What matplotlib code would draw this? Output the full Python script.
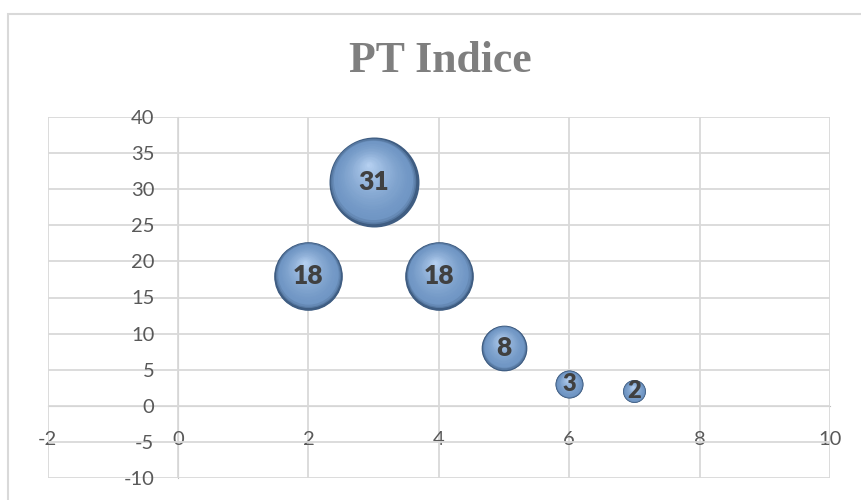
import numpy as np
import matplotlib.pyplot as plt
from matplotlib.transforms import ScaledTranslation
from matplotlib.colors import to_rgb
from matplotlib.patches import Rectangle

plt.rcParams['axes.unicode_minus'] = False

x_vals = [2, 3, 4, 5, 6, 7]
y_vals = [18, 31, 18, 8, 3, 2]
bubble_sizes = [18, 31, 18, 8, 3, 2]
title = 'PT Indice'

edge_col = np.array(to_rgb('#3f5d82'))
base_col = np.array(to_rgb('#7096c4'))
high_col = np.array(to_rgb('#b9d3f3'))

fig = plt.figure(figsize=(8.61, 5.0), dpi=100)
ax = fig.add_axes([0.0553, 0.044, 0.9087, 0.722])
ax.set_xlim(-2, 10)
ax.set_ylim(-10, 40)
ax.set_xticks(np.arange(-2, 11, 2))
ax.set_yticks(np.arange(-10, 41, 5))

ax.grid(True, color='#d9d9d9', lw=1.3, zorder=0)
ax.set_axisbelow(True)
for side in ['top', 'right']:
    ax.spines[side].set_visible(False)
ax.spines['left'].set_position(('data', 0))
ax.spines['bottom'].set_position(('data', 0))
ax.spines['left'].set_color('#bfbfbf')
ax.spines['bottom'].set_color('#bfbfbf')
ax.spines['left'].set_zorder(0.5)
ax.spines['bottom'].set_zorder(0.5)
ax.tick_params(length=0, labelsize=14.5, labelcolor='#595959')
ax.tick_params(axis='y', pad=17)
ax.tick_params(axis='x', pad=18)
for lab in ax.get_xticklabels() + ax.get_yticklabels():
    lab.set_fontfamily('Lato')

# bubbles: diameter in points scales with sqrt of size (area-proportional)
max_d = 64.8
for xv, yv, sv in zip(x_vals, y_vals, bubble_sizes):
    d = max_d * np.sqrt(sv / max(bubble_sizes))
    ax.scatter([xv], [yv], s=d ** 2, color=edge_col, zorder=3, lw=0)
    n = 28
    for i in range(n):
        k = 1 - i / n
        dk = d * (0.985 * k)
        dx = -(1 - k) * d * 0.06
        dy = (1 - k) * d * 0.2
        if k > 0.9:
            c = edge_col + (base_col - edge_col) * ((1 - k) / 0.1) ** 0.7
        else:
            c = base_col + (high_col - base_col) * min(1, ((0.9 - k) / 0.9) ** 1.4)
        tr = ax.transData + ScaledTranslation(dx / 72, dy / 72, fig.dpi_scale_trans)
        ax.scatter([xv], [yv], s=dk ** 2, color=c, zorder=3, lw=0, transform=tr)
    ax.text(xv, yv, str(sv), ha='center', va='center', fontsize=19 if sv > 5 else 17,
            fontweight='heavy', color='#404040', family='Lato', zorder=5)

fig.text(0.511, 0.855, title, ha='center', va='baseline', fontsize=31.5,
         fontweight='bold', color='#7f7f7f', family='Liberation Serif')

# chart frame
fig.patches.append(Rectangle((8 / 861, -0.1), 1.2, 1 - 14 / 500 + 0.1, transform=fig.transFigure,
                             fill=False, ec='#d9d9d9', lw=1.5))

fig.savefig('out.png', dpi=100)
